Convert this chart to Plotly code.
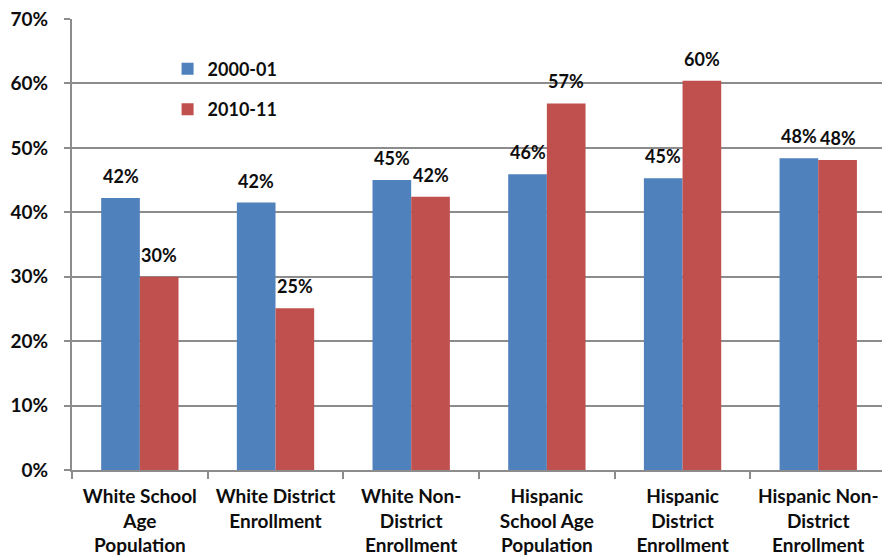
import plotly.graph_objects as go

categories = [
    "White School<br>Age<br>Population",
    "White District<br>Enrollment",
    "White Non-<br>District<br>Enrollment",
    "Hispanic<br>School Age<br>Population",
    "Hispanic<br>District<br>Enrollment",
    "Hispanic Non-<br>District<br>Enrollment",
]
share_2000 = [0.422, 0.415, 0.450, 0.459, 0.453, 0.484]
share_2010 = [0.300, 0.251, 0.424, 0.569, 0.604, 0.481]
series_names = ["2000-01", "2010-11"]
y_ticks = [0, 0.1, 0.2, 0.3, 0.4, 0.5, 0.6, 0.7]

BLUE = "#4F81BD"
RED = "#C0504D"
GRID = "#8C8C8C"
FONT = "Lato"
TEXT = "#0d0d0d"
BARGAP = 0.43

fig = go.Figure()
for name, vals, color, grp in [
    (series_names[0], share_2000, BLUE, "a"),
    (series_names[1], share_2010, RED, "b"),
]:
    fig.add_trace(go.Bar(
        x=categories, y=vals, name=name, legendgroup=grp,
        marker=dict(color=color, line=dict(width=0)),
    ))

# value labels above each bar
half = (1 - BARGAP) / 4
for vals, off in [(share_2000, -half), (share_2010, half)]:
    for i, v in enumerate(vals):
        fig.add_annotation(
            x=i + off, y=v, xref="x", yref="y",
            text=f"{round(v * 100):d}%", showarrow=False,
            yanchor="bottom", yshift=9,
            font=dict(family=FONT, size=18, color=TEXT, weight="bold"),
        )

fig.update_layout(
    width=882, height=556,
    margin=dict(l=72, r=0, t=19, b=86),
    paper_bgcolor="white", plot_bgcolor="white",
    barmode="group", bargap=BARGAP, bargroupgap=0,
    font=dict(family=FONT, color=TEXT),
    legend=dict(
        x=0.118, y=0.93, xanchor="left", yanchor="top",
        bgcolor="rgba(0,0,0,0)", tracegroupgap=14,
        font=dict(family=FONT, size=18, color=TEXT, weight="bold"),
        itemwidth=30,
    ),
    xaxis=dict(
        range=[-0.5, 5.47], automargin=False, tickangle=0,
        showline=True, linecolor=GRID, linewidth=2,
        ticks="outside", tickson="boundaries", ticklen=7,
        tickcolor=GRID, tickwidth=2, ticklabelstandoff=8,
        tickfont=dict(family=FONT, size=19, color=TEXT, weight="bold"),
        showgrid=False,
    ),
    yaxis=dict(
        range=[0, 0.7], tickvals=y_ticks, tickformat=".0%", automargin=False,
        showline=True, linecolor=GRID, linewidth=2,
        ticks="outside", ticklen=6, tickcolor=GRID, tickwidth=2,
        ticklabelstandoff=12,
        showgrid=True, gridcolor=GRID, gridwidth=1.5,
        tickfont=dict(family=FONT, size=19, color=TEXT, weight="bold"),
        zeroline=False,
    ),
)

fig.write_html("out.html")
